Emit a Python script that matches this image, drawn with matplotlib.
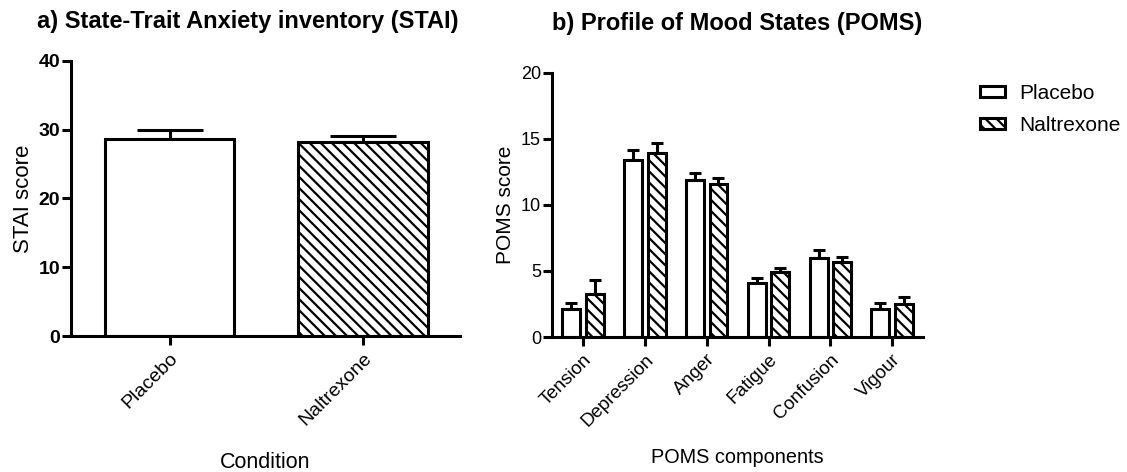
import numpy as np
import matplotlib
matplotlib.use('Agg')
from matplotlib import pyplot as plt
from matplotlib.patches import Patch

plt.rcParams['font.family'] = ['Liberation Sans', 'DejaVu Sans']
plt.rcParams['hatch.linewidth'] = 1.6

HATCH = chr(92) * 3  # back-slash diagonal lines

# STAI panel
conditions = ['Placebo', 'Naltrexone']
stai_mean = [28.6, 28.2]
stai_sem = [1.3, 0.9]

# POMS panel
components = ['Tension', 'Depression', 'Anger', 'Fatigue', 'Confusion', 'Vigour']
poms_placebo = [2.15, 13.4, 11.9, 4.05, 5.95, 2.1]
poms_placebo_sem = [0.45, 0.75, 0.5, 0.4, 0.6, 0.45]
poms_naltrexone = [3.25, 13.95, 11.55, 4.9, 5.65, 2.5]
poms_naltrexone_sem = [1.05, 0.75, 0.45, 0.35, 0.38, 0.55]

LW = 2.2


def style_axes(ax):
    for s in ['top', 'right']:
        ax.spines[s].set_visible(False)
    for s in ['left', 'bottom']:
        ax.spines[s].set_linewidth(LW)
    ax.tick_params(width=LW, length=6.5, direction='out')
    ax.tick_params(axis='y', pad=1.5)


fig = plt.figure(figsize=(11.27, 4.72), dpi=100)

# a) STAI
ax1 = fig.add_axes([0.063, 0.288, 0.345, 0.583])
x1 = np.arange(len(conditions))
ax1.bar(x1, stai_mean, width=0.67, color='white', edgecolor='black',
        linewidth=LW, hatch=['', HATCH], zorder=2)
ax1.errorbar(x1, stai_mean, yerr=[np.zeros(2), stai_sem], fmt='none',
             ecolor='black', elinewidth=LW, capsize=24, capthick=LW, zorder=1)
ax1.set_xlim(-0.51, 1.5)
ax1.set_ylim(0, 40)
ax1.set_yticks([0, 10, 20, 30, 40])
ax1.set_xticks(x1)
ax1.set_xticklabels(conditions, rotation=45, ha='right', rotation_mode='anchor', fontsize=14)
for t in ax1.get_yticklabels():
    t.set_fontweight('bold')
    t.set_fontsize(14)
ax1.set_ylabel('STAI score', fontsize=16)
ax1.set_xlabel('Condition', fontsize=15.5)
ax1.xaxis.set_label_coords(0.5, -0.42)
ax1.yaxis.set_label_coords(-0.095, 0.5)
style_axes(ax1)

# b) POMS
ax2 = fig.add_axes([0.49, 0.286, 0.329, 0.56])
x2 = np.arange(len(components))
w = 0.29
off = 0.19
ax2.bar(x2 - off, poms_placebo, width=w, color='white', edgecolor='black',
        linewidth=LW, zorder=2, label='Placebo')
ax2.bar(x2 + off, poms_naltrexone, width=w, color='white', edgecolor='black',
        linewidth=LW, hatch=HATCH, zorder=2, label='Naltrexone')
ax2.errorbar(x2 - off, poms_placebo, yerr=[np.zeros(6), poms_placebo_sem], fmt='none',
             ecolor='black', elinewidth=LW, capsize=4.5, capthick=LW, zorder=1)
ax2.errorbar(x2 + off, poms_naltrexone, yerr=[np.zeros(6), poms_naltrexone_sem], fmt='none',
             ecolor='black', elinewidth=LW, capsize=4.5, capthick=LW, zorder=1)
ax2.set_xlim(-0.5, 5.5)
ax2.set_ylim(0, 20)
ax2.set_yticks([0, 5, 10, 15, 20])
ax2.set_xticks(x2)
ax2.set_xticklabels(components, rotation=45, ha='right', rotation_mode='anchor', fontsize=13.5)
ax2.tick_params(axis='y', labelsize=13)
ax2.set_ylabel('POMS score', fontsize=15)
ax2.set_xlabel('POMS components', fontsize=14.3)
ax2.xaxis.set_label_coords(0.5, -0.42)
style_axes(ax2)

handles = [Patch(facecolor='white', edgecolor='black', linewidth=LW, label='Placebo'),
           Patch(facecolor='white', edgecolor='black', linewidth=LW, hatch=HATCH, label='Naltrexone')]
fig.legend(handles=handles, loc='upper left', bbox_to_anchor=(0.8696, 0.822), frameon=False,
           fontsize=15, handlelength=1.2, handleheight=0.45, labelspacing=0.62,
           handletextpad=0.7, borderpad=0, borderaxespad=0)

fig.text(0.22, 0.955, 'a) State-Trait Anxiety inventory (STAI)', ha='center', va='center',
         fontsize=17, fontweight='bold')
fig.text(0.654, 0.95, 'b) Profile of Mood States (POMS)', ha='center', va='center',
         fontsize=17, fontweight='bold')

fig.savefig('out.png', dpi=100)
